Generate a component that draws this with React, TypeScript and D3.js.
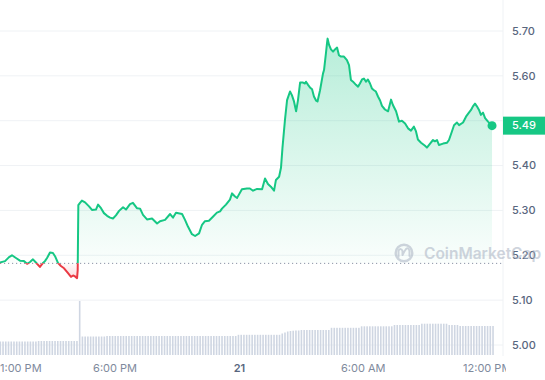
import React from 'react';
import * as d3 from 'd3';

// Hours since chart start (12:29 PM, day 20)
const priceHours = [
  0, 0.24, 0.43, 0.57, 0.76, 0.95, 1.14, 1.29, 1.43, 1.57, 1.71, 1.9, 2.05, 2.14, 2.24, 2.38, 2.52, 2.62, 2.76, 2.9,
  3.05, 3.24, 3.38, 3.48, 3.57, 3.67, 3.7, 3.73, 3.81, 3.9, 4.05, 4.24, 4.38, 4.57, 4.67, 4.81, 4.95, 5.1, 5.24, 5.38,
  5.52, 5.67, 5.86, 6.0, 6.19, 6.33, 6.52, 6.67, 6.81, 7.0, 7.24, 7.48, 7.62, 7.86, 8.1, 8.24, 8.38, 8.67, 8.81, 8.95,
  9.14, 9.29, 9.48, 9.62, 9.76, 9.95, 10.14, 10.33, 10.48, 10.57, 10.76, 10.95, 11.05, 11.19, 11.29, 11.52, 11.76, 11.9, 12.05, 12.24,
  12.48, 12.62, 12.76, 12.9, 13.05, 13.14, 13.29, 13.38, 13.45, 13.57, 13.67, 13.81, 13.9, 14.0, 14.1, 14.19, 14.29, 14.43, 14.52, 14.57,
  14.67, 14.76, 14.86, 14.95, 15.05, 15.12, 15.24, 15.38, 15.43, 15.52, 15.57, 15.6, 15.67, 15.76, 15.86, 15.95, 16.05, 16.14, 16.24, 16.38,
  16.52, 16.62, 16.71, 16.81, 16.95, 17.05, 17.14, 17.24, 17.33, 17.43, 17.52, 17.62, 17.71, 17.81, 17.9, 18.0, 18.1, 18.19, 18.33, 18.48,
  18.62, 18.71, 18.86, 19.0, 19.14, 19.29, 19.43, 19.57, 19.71, 19.81, 19.9, 20.05, 20.24, 20.33, 20.48, 20.62, 20.71, 20.81, 20.9, 21.1,
  21.29, 21.38, 21.52, 21.62, 21.76, 21.86, 22.05, 22.19, 22.33, 22.43, 22.52, 22.62, 22.71, 22.81, 22.9, 23.0, 23.1, 23.24, 23.43,
];

const priceValues = [
  5.184, 5.187, 5.196, 5.2, 5.194, 5.188, 5.187, 5.181, 5.185, 5.191, 5.184, 5.174, 5.183, 5.187, 5.194, 5.206, 5.205, 5.198, 5.183, 5.176,
  5.171, 5.16, 5.152, 5.155, 5.153, 5.149, 5.167, 5.312, 5.317, 5.322, 5.318, 5.309, 5.301, 5.302, 5.313, 5.305, 5.294, 5.288, 5.284, 5.282,
  5.289, 5.299, 5.307, 5.302, 5.314, 5.317, 5.305, 5.304, 5.29, 5.28, 5.282, 5.271, 5.276, 5.279, 5.292, 5.284, 5.295, 5.292, 5.279, 5.264,
  5.247, 5.243, 5.249, 5.268, 5.276, 5.277, 5.286, 5.295, 5.298, 5.304, 5.313, 5.324, 5.338, 5.331, 5.328, 5.347, 5.349, 5.349, 5.344, 5.348,
  5.347, 5.371, 5.359, 5.353, 5.344, 5.368, 5.375, 5.395, 5.439, 5.502, 5.546, 5.565, 5.557, 5.543, 5.521, 5.546, 5.585, 5.585, 5.583, 5.587,
  5.58, 5.574, 5.57, 5.554, 5.545, 5.543, 5.568, 5.605, 5.613, 5.65, 5.672, 5.683, 5.669, 5.659, 5.654, 5.659, 5.663, 5.646, 5.643, 5.643,
  5.635, 5.624, 5.591, 5.587, 5.58, 5.576, 5.583, 5.592, 5.594, 5.587, 5.592, 5.583, 5.572, 5.568, 5.565, 5.554, 5.545, 5.533, 5.525, 5.521,
  5.547, 5.535, 5.521, 5.498, 5.5, 5.494, 5.483, 5.478, 5.487, 5.476, 5.458, 5.451, 5.444, 5.44, 5.449, 5.457, 5.454, 5.457, 5.446, 5.449,
  5.451, 5.457, 5.476, 5.49, 5.496, 5.49, 5.496, 5.509, 5.518, 5.524, 5.532, 5.538, 5.532, 5.524, 5.513, 5.518, 5.506, 5.498, 5.489,
];

// 24h volume (M), one bar per step
const volumes = [
  13.5, 13.5, 13.5, 13.5, 13.5, 13.5, 13.5, 13.5, 13.5, 13.5, 13.5, 13.5, 13.5, 13.5,
  14, 14, 14, 14, 14, 14, 14, 14, 14, 14, 14, 14, 14, 14, 14,
  54,
  18.5, 18.5, 18.5, 18.5, 18.5, 18.5, 18.5, 18.5, 18.5,
  19, 19, 19, 19, 19, 19, 19, 19, 19, 19, 19, 19, 19, 19, 19, 19, 19, 19, 19, 19, 19, 19, 19, 19,
  19, 19, 19, 19, 19, 19, 19, 19, 19, 19, 19, 19, 19, 19, 19, 19, 19, 19, 19, 19, 19, 19, 19, 19,
  20.2, 20.2, 20.2, 20.2, 20.2, 20.2, 20.2, 20.2, 20.2, 20.2, 20.2, 20.2, 20.2, 20.2, 20.2, 20.2,
  21.5, 22.5, 23.5, 24, 24.3, 24.5, 24.5,
  25, 25, 25, 25, 25, 25, 25, 25, 25, 25, 25,
  27.2, 27.2, 27.2, 27.2, 27.2, 27.2, 27.2, 27.2, 27.2, 27.2, 27.2,
  28.7, 28.7, 28.7, 28.7, 28.7, 28.7, 28.7, 28.7, 28.7, 28.7, 28.7, 28.7,
  30, 30, 30, 30, 30, 30, 30, 30, 30, 30,
  31.3, 31.3, 31.3, 31.3, 31.3, 31.3, 31.3, 31.3, 31.3, 31.3,
  30, 30, 30, 30,
  29, 29, 29, 29, 29, 29, 29, 29, 29, 29, 29, 29, 29,
];

const yTicks = [5.0, 5.1, 5.2, 5.3, 5.4, 5.5, 5.6, 5.7];
const xTickLabels = ['1:00 PM', '6:00 PM', '21', '6:00 AM', '12:00 PM'];
const xTickHours = [0.5, 5.48, 11.4, 17.3, 23.2];
const openPrice = 5.182;
const lastPriceLabel = '5.49';

const W = 545;
const H = 380;
const PLOT_RIGHT = 503;
const GREEN = '#16c784';
const RED = '#ea3943';
const FONT = 'Inter, "Noto Sans", sans-serif';

export default function App() {
  const x = d3.scaleLinear().domain([0, 24]).range([0, 504]);
  const y = d3.scaleLinear().domain([5.0, 5.7]).range([345, 31]);
  const vy = d3.scaleLinear().domain([0, 54]).range([355, 301]);
  const lastHour = priceHours[priceHours.length - 1];
  const vx = d3.scaleLinear().domain([0, volumes.length - 1]).range([x(0) + 0.3, x(lastHour) + 1]);

  const data = priceHours.map((h, i) => ({ h, v: priceValues[i] }));
  const by = y(openPrice);
  const line = d3.line<any>().x((d) => x(d.h)).y((d) => y(d.v));
  const area = d3.area<any>().x((d) => x(d.h)).y0(by).y1((d) => y(d.v));
  const linePath = line(data) || '';
  const areaPath = area(data) || '';
  const last = data[data.length - 1];

  return (
    <svg width={W} height={H} style={{ position: 'absolute', left: 0, top: 0, background: '#fff' }} fontFamily={FONT}>
      <defs>
        <clipPath id="above"><rect x={0} y={0} width={W} height={by} /></clipPath>
        <clipPath id="below"><rect x={0} y={by} width={W} height={H - by} /></clipPath>
        <clipPath id="xlab"><rect x={0} y={355} width={506} height={25} /></clipPath>
        <linearGradient id="gGreen" gradientUnits="userSpaceOnUse" x1={0} y1={y(5.7)} x2={0} y2={by}>
          <stop offset="0" stopColor={GREEN} stopOpacity={0.32} />
          <stop offset="1" stopColor={GREEN} stopOpacity={0.02} />
        </linearGradient>
        <linearGradient id="gRed" gradientUnits="userSpaceOnUse" x1={0} y1={by} x2={0} y2={y(5.149)}>
          <stop offset="0" stopColor={RED} stopOpacity={0.03} />
          <stop offset="1" stopColor={RED} stopOpacity={0.18} />
        </linearGradient>
      </defs>

      {/* grid */}
      {yTicks.map((t) => (
        <line key={t} x1={0} x2={PLOT_RIGHT} y1={y(t)} y2={y(t)} stroke="#eff2f5" strokeWidth={1} />
      ))}
      <line x1={PLOT_RIGHT} x2={PLOT_RIGHT} y1={0} y2={356} stroke="#eff2f5" strokeWidth={1} />

      {/* volume bars */}
      {volumes.map((v, i) => (
        <rect key={i} x={vx(i) - 0.8} y={vy(v)} width={1.6} height={vy(0) - vy(v)} fill="#cfd6e2" />
      ))}

      {/* areas */}
      <path d={areaPath} fill="url(#gGreen)" clipPath="url(#above)" />
      <path d={areaPath} fill="url(#gRed)" clipPath="url(#below)" />

      {/* open price dotted line */}
      <line x1={0} x2={PLOT_RIGHT} y1={by} y2={by} stroke="#8a94a6" strokeWidth={1} strokeDasharray="1.2 2.8" />

      {/* y axis labels */}
      {yTicks.map((t) => (
        <text key={t} x={512} y={y(t)} dy="0.35em" fontSize={11} fontWeight={500} fill="#58667e">
          {t.toFixed(2)}
        </text>
      ))}

      {/* watermark */}
      <g opacity={0.55}>
        <circle cx={404} cy={253} r={8.3} fill="none" stroke="#a9b2c2" strokeWidth={2.4} />
        <path d="M398.5,257 L398.5,250.5 Q401,247.5 402.5,251 L402.5,255 Q404.5,251 406,249 Q408.5,247 409.5,251 L409.5,256" fill="none" stroke="#a9b2c2" strokeWidth={2} strokeLinecap="round" strokeLinejoin="round" />
        <text x={424} y={259} fontSize={15.5} fontWeight={600} fill="#a9b2c2">CoinMarketCap</text>
      </g>

      {/* price line */}
      <path d={linePath} fill="none" stroke={GREEN} strokeWidth={2} strokeLinejoin="round" clipPath="url(#above)" />
      <path d={linePath} fill="none" stroke={RED} strokeWidth={2} strokeLinejoin="round" clipPath="url(#below)" />
      <circle cx={x(last.h)} cy={y(last.v)} r={4.5} fill={GREEN} />

      {/* last price tag */}
      <rect x={PLOT_RIGHT} y={y(last.v) - 9} width={W - PLOT_RIGHT} height={18} fill={GREEN} />
      <text x={512} y={y(last.v)} dy="0.35em" fontSize={11} fontWeight={500} fill="#fff">{lastPriceLabel}</text>

      {/* x axis labels */}
      <g clipPath="url(#xlab)">
        {xTickLabels.map((lab, i) => {
          const px = x(xTickHours[i]);
          const nearLeft = px < 22;
          return (
            <text
              key={lab}
              x={nearLeft ? 0 : px}
              y={372}
              textAnchor={nearLeft ? 'start' : 'middle'}
              fontSize={11}
              fontWeight={lab === '21' ? 600 : 400}
              fill={lab === '21' ? '#58667e' : '#808a9d'}
            >
              {lab}
            </text>
          );
        })}
      </g>
    </svg>
  );
}
